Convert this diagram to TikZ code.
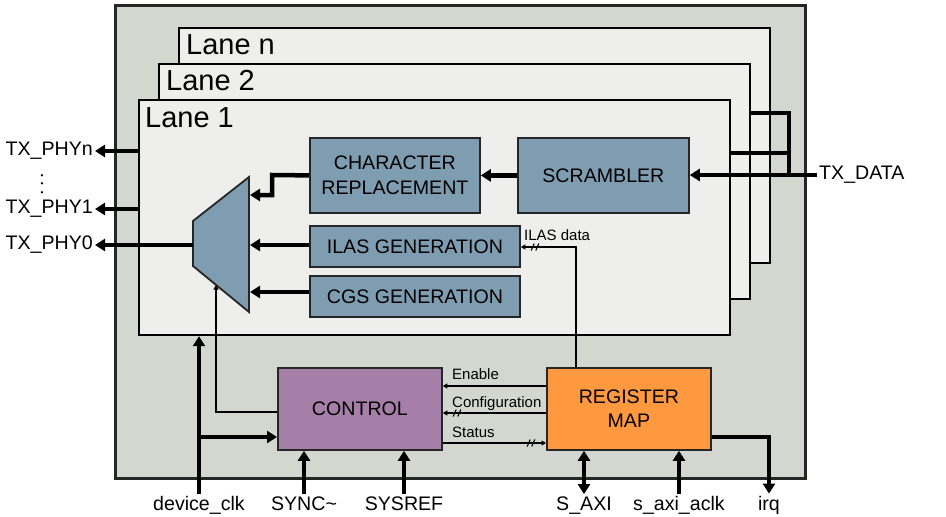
\documentclass[tikz,border=0pt]{standalone}
\usepackage{fontspec}
\setmainfont{Liberation Sans}
\usetikzlibrary{arrows.meta,calc}
\definecolor{outerfill}{HTML}{D3D7CF}
\definecolor{lanefill}{HTML}{EEEEEC}
\definecolor{blockfill}{HTML}{7F9DB1}
\definecolor{ctrlfill}{HTML}{A67FA9}
\definecolor{regfill}{HTML}{FF9940}
\begin{document}
\begin{tikzpicture}[x=1pt,y=-1pt,
  outerbox/.style={draw=black!85, line width=2.5pt, fill=outerfill, anchor=north west, inner sep=0, minimum width=690pt, minimum height=473pt},
  lanebox/.style={draw=black, line width=2.2pt, fill=lanefill, anchor=north west, inner sep=0, minimum width=591pt, minimum height=235pt},
  lanelabel/.style={anchor=base west, font=\fontsize{29}{29}\selectfont, inner sep=0},
  block/.style={draw=black!85, line width=1.8pt, fill=blockfill, anchor=north west, inner sep=0, align=center, font=\fontsize{19.6}{24.5}\selectfont},
  biglabel/.style={font=\fontsize{19.6}{24}\selectfont, inner sep=2pt},
  smalllabel/.style={font=\fontsize{15}{15}\selectfont, inner sep=0, anchor=base west},
  thickarrow/.style={line width=4.5pt, -{Triangle[length=10pt,width=12pt]}},
  thickdouble/.style={line width=4.5pt, {Triangle[length=10pt,width=12pt]}-{Triangle[length=10pt,width=12pt]}},
  thickline/.style={line width=4.5pt},
  thinarrow/.style={line width=1.6pt, -{Triangle[length=4.5pt,width=5pt]}},
  thinline/.style={line width=1.6pt},
  dslash/.pic={\draw[line width=1.1pt] (-3.8,3.5) -- (-0.8,-3.5) (0.8,3.5) -- (3.8,-3.5);}
]
\useasboundingbox (0,0) rectangle (946,517);

% outer box and lanes
\node[outerbox] (outer) at (114,4) {};
\node[lanebox] (lanen) at (178,27) {};
\node[lanebox] (lane2) at (158,63) {};
\node[lanebox] (lane1) at (138,99) {};
\node[lanelabel] (lnl) at ($(lanen.north west)+(8,27)$) {Lane n};
\node[lanelabel] (l2l) at ($(lane2.north west)+(8,27)$) {Lane 2};
\node[lanelabel] (l1l) at ($(lane1.north west)+(7,28)$) {Lane 1};

% blocks
\node[block, minimum width=170pt, minimum height=75pt] (char) at (309,137) {CHARACTER\\REPLACEMENT};
\node[block, minimum width=171pt, minimum height=75pt] (scr) at (517,137) {SCRAMBLER};
\node[block, minimum width=210pt, minimum height=41pt] (ilas) at (309,225) {ILAS GENERATION};
\node[block, minimum width=210pt, minimum height=41pt] (cgs) at (309,275) {CGS GENERATION};
\node[block, fill=ctrlfill, minimum width=164pt, minimum height=82pt] (ctrl) at (277,367) {CONTROL};
\node[block, fill=regfill, minimum width=164pt, minimum height=82pt] (reg) at (546,367) {REGISTER\\MAP};

% mux
\coordinate (mtl) at (193,221);
\coordinate (mtr) at (249,177);
\coordinate (mbr) at (249,312);
\coordinate (mbl) at (193,266);
\draw[fill=blockfill, line width=1.8pt, draw=black!85] (mtl) -- (mtr) -- (mbr) -- (mbl) -- cycle;
\coordinate (muxout) at (193,245);
\coordinate (muxin1) at (250,195);
\coordinate (muxin2) at (250,245);
\coordinate (muxin3) at (250,292);
\coordinate (muxsel) at (216,285);

% outside labels
\node[biglabel, anchor=east] (phyn) at (95,151) {TX\_PHYn};
\node[biglabel, anchor=east] (phy1) at (95,209) {TX\_PHY1};
\node[biglabel, anchor=east] (phy0) at (95,245) {TX\_PHY0};
\node[font=\fontsize{19.6}{24}\selectfont, inner sep=0, rotate=90] (dots) at (42,184) {.\hspace{3.2pt}.\hspace{3.2pt}.};
\node[biglabel, anchor=west] (txdata) at (817,175) {TX\_DATA};
\node[biglabel, anchor=base] (dclk) at (199,510) {device\_clk};
\node[biglabel, anchor=base] (sync) at (304,510) {SYNC\textasciitilde};
\node[biglabel, anchor=base] (sysref) at (404,510) {SYSREF};
\node[biglabel, anchor=base] (saxi) at (584,510) {S\_AXI};
\node[biglabel, anchor=base] (aclk) at (679,510) {s\_axi\_aclk};
\node[biglabel, anchor=base] (irq) at (769,510) {irq};

% lane outputs
\draw[thickarrow] (lane1.west |- 0,151) -- (phyn.east);
\draw[thickarrow] (lane1.west |- 0,209) -- (phy1.east);
\draw[thickarrow] (muxout) -- (phy0.east);

% TX_DATA distribution
\draw[thickline] (789,175) -- (789,113) -- (lane2.east |- 0,113);
\draw[thickline] (789,153) -- (lane1.east |- 0,153);
\draw[thickarrow] (txdata.west) -- (scr.east |- txdata.west);

% datapath
\draw[thickarrow] (scr.west) -- (char.east);
\draw[thickarrow] (char.west) -- (272,175) |- (muxin1);
\draw[thickarrow] (ilas.west |- muxin2) -- (muxin2);
\draw[thickarrow] (cgs.west |- muxin3) -- (muxin3);

% ILAS data
\draw[thinarrow] (reg.north -| 576,0) -- (576,247) -- (ilas.east |- 0,247);
\pic at (535,247) {dslash};
\node[smalllabel] (ilasdata) at (524,240) {ILAS data};

% control to mux
\draw[thinarrow] (ctrl.west |- 0,412) -- (216,412) -- (muxsel);

% control <-> register map
\draw[thinarrow] (reg.west |- 0,386) -- (ctrl.east |- 0,386);
\draw[thinarrow] (reg.west |- 0,413) -- (ctrl.east |- 0,413);
\pic at (457,413) {dslash};
\draw[thinarrow] (ctrl.east |- 0,443) -- (reg.west |- 0,443);
\pic at (531,443) {dslash};
\node[smalllabel] (enl) at (452,379) {Enable};
\node[smalllabel] (cfl) at (452,407) {Configuration};
\node[smalllabel] (stl) at (452,437) {Status};

% bottom signals
\draw[thickarrow] (dclk.north) -- (dclk.north |- lane1.south);
\draw[thickarrow] (199,437) -- (ctrl.west |- 0,437);
\draw[thickarrow] (sync.north) -- (sync.north |- ctrl.south);
\draw[thickarrow] (sysref.north) -- (sysref.north |- ctrl.south);
\draw[thickdouble] (saxi.north) -- (saxi.north |- reg.south);
\draw[thickarrow] (aclk.north) -- (aclk.north |- reg.south);
\draw[thickarrow] (reg.east |- 0,437) -| (irq.north);
\end{tikzpicture}
\end{document}
